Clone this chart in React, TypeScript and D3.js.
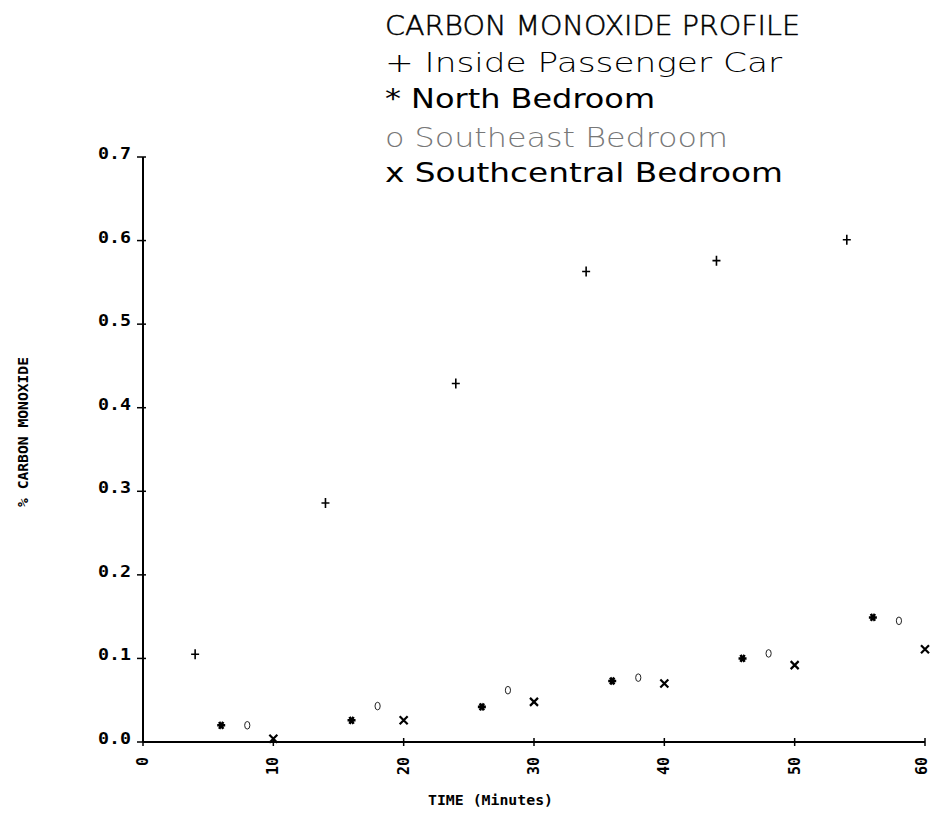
import React, { useRef, useEffect } from 'react';
import * as d3 from 'd3';

// time (minutes) and % CO for each sampling location
const carTimes = [4, 14, 24, 34, 44, 54];
const carValues = [0.105, 0.286, 0.429, 0.563, 0.576, 0.601];

const northTimes = [6, 16, 26, 36, 46, 56];
const northValues = [0.02, 0.026, 0.042, 0.073, 0.1, 0.149];

const southeastTimes = [8, 18, 28, 38, 48, 58];
const southeastValues = [0.02, 0.043, 0.062, 0.077, 0.106, 0.145];

const southcentralTimes = [10, 20, 30, 40, 50, 60];
const southcentralValues = [0.004, 0.026, 0.048, 0.07, 0.092, 0.111];

const xTicks = [0, 10, 20, 30, 40, 50, 60];
const yTicks = [0, 0.1, 0.2, 0.3, 0.4, 0.5, 0.6, 0.7];

const title = 'CARBON MONOXIDE PROFILE';
const legendLabels = [
  '+ Inside Passenger Car',
  '* North Bedroom',
  'o Southeast Bedroom',
  'x Southcentral Bedroom',
];

export default function App() {
  const svgRef = useRef<SVGSVGElement>(null);

  useEffect(() => {
    const svg = d3.select(svgRef.current);
    svg.selectAll('*').remove();

    const x = d3.scaleLinear().domain([0, 60]).range([143, 925]);
    const y = d3.scaleLinear().domain([0, 0.7]).range([742, 157]);

    const mono = '"DejaVu Sans Mono", monospace';
    const sans = '"DejaVu Sans", sans-serif';

    // axes
    svg.append('line')
      .attr('x1', x(0)).attr('x2', x(0))
      .attr('y1', y(0)).attr('y2', y(0.7))
      .attr('stroke', '#000').attr('stroke-width', 2);
    svg.append('line')
      .attr('x1', x(0)).attr('x2', x(60))
      .attr('y1', y(0)).attr('y2', y(0))
      .attr('stroke', '#000').attr('stroke-width', 2);

    // y ticks
    yTicks.forEach(t => {
      svg.append('line')
        .attr('x1', x(0) - 6).attr('x2', x(0) + 3)
        .attr('y1', y(t)).attr('y2', y(t))
        .attr('stroke', '#000').attr('stroke-width', 1.5);
      svg.append('text')
        .attr('x', 131)
        .attr('y', y(t) + 2)
        .attr('text-anchor', 'end')
        .attr('font-family', mono)
        .attr('font-weight', 'bold')
        .attr('font-size', 16)
        .attr('textLength', 33)
        .attr('lengthAdjust', 'spacingAndGlyphs')
        .text(t.toFixed(1));
    });

    // x ticks (labels turned to read upward)
    xTicks.forEach(t => {
      svg.append('line')
        .attr('x1', x(t)).attr('x2', x(t))
        .attr('y1', y(0) - 4).attr('y2', y(0) + 4)
        .attr('stroke', '#000').attr('stroke-width', 1.5);
      svg.append('text')
        .attr('transform', `translate(${Math.min(x(t), 922)},757) rotate(-90)`)
        .attr('text-anchor', 'end')
        .attr('dominant-baseline', 'central')
        .attr('font-family', mono)
        .attr('font-weight', 'bold')
        .attr('font-size', 15)
        .text(String(t));
    });

    // axis titles
    svg.append('text')
      .attr('x', 428).attr('y', 805)
      .attr('font-family', mono)
      .attr('font-weight', 'bold')
      .attr('font-size', 14)
      .attr('textLength', 125)
      .attr('lengthAdjust', 'spacingAndGlyphs')
      .text('TIME (Minutes)');
    svg.append('text')
      .attr('transform', 'translate(28,507) rotate(-90)')
      .attr('font-family', mono)
      .attr('font-weight', 'bold')
      .attr('font-size', 14)
      .attr('textLength', 150)
      .attr('lengthAdjust', 'spacingAndGlyphs')
      .text('% CARBON MONOXIDE');

    // markers
    const plus = 'M-4,0H4M0,-5V5';
    const star = 'M-4,0H4M-2,-3.5L2,3.5M2,-3.5L-2,3.5';
    const cross = 'M-4,-4L4,4M4,-4L-4,4';

    const pts = (ts: number[], vs: number[]) => ts.map((t, i) => [t, vs[i]]);

    svg.selectAll('.car')
      .data(pts(carTimes, carValues))
      .enter().append('path')
      .attr('transform', d => `translate(${x(d[0])},${y(d[1])})`)
      .attr('d', plus)
      .attr('stroke', '#000').attr('stroke-width', 1.6).attr('fill', 'none');

    svg.selectAll('.north')
      .data(pts(northTimes, northValues))
      .enter().append('path')
      .attr('transform', d => `translate(${x(d[0])},${y(d[1])})`)
      .attr('d', star)
      .attr('stroke', '#000').attr('stroke-width', 2.6).attr('fill', 'none');

    svg.selectAll('.southeast')
      .data(pts(southeastTimes, southeastValues))
      .enter().append('ellipse')
      .attr('cx', d => x(d[0]))
      .attr('cy', d => y(d[1]))
      .attr('rx', 2.6).attr('ry', 3.8)
      .attr('stroke', '#222').attr('stroke-width', 1).attr('fill', 'none');

    svg.selectAll('.southcentral')
      .data(pts(southcentralTimes, southcentralValues))
      .enter().append('path')
      .attr('transform', d => `translate(${x(d[0])},${y(d[1])})`)
      .attr('d', cross)
      .attr('stroke', '#000').attr('stroke-width', 2.2).attr('fill', 'none');

    // title and legend
    svg.append('text')
      .attr('x', 385).attr('y', 35)
      .attr('font-family', sans)
      .attr('font-weight', 200)
      .attr('font-size', 27)
      .attr('stroke', '#000').attr('stroke-width', 0.5)
      .attr('textLength', 415)
      .attr('lengthAdjust', 'spacingAndGlyphs')
      .text(title);

    const legendY = [72, 108, 147, 182];
    const legendW = [397, 270, 343, 398];
    const legendWeight = [200, 'normal', 200, 'normal'];
    const legendFill = ['#000', '#000', '#777', '#000'];
    legendLabels.forEach((label, i) => {
      svg.append('text')
        .attr('x', 385).attr('y', legendY[i])
        .attr('font-family', sans)
        .attr('font-weight', legendWeight[i])
        .attr('font-size', 27)
        .attr('fill', legendFill[i])
        .attr('textLength', legendW[i])
        .attr('lengthAdjust', 'spacingAndGlyphs')
        .text(label);
    });
  }, []);

  return (
    <svg
      ref={svgRef}
      width={931}
      height={833}
      style={{ position: 'absolute', left: 0, top: 0, background: '#fff' }}
    />
  );
}
